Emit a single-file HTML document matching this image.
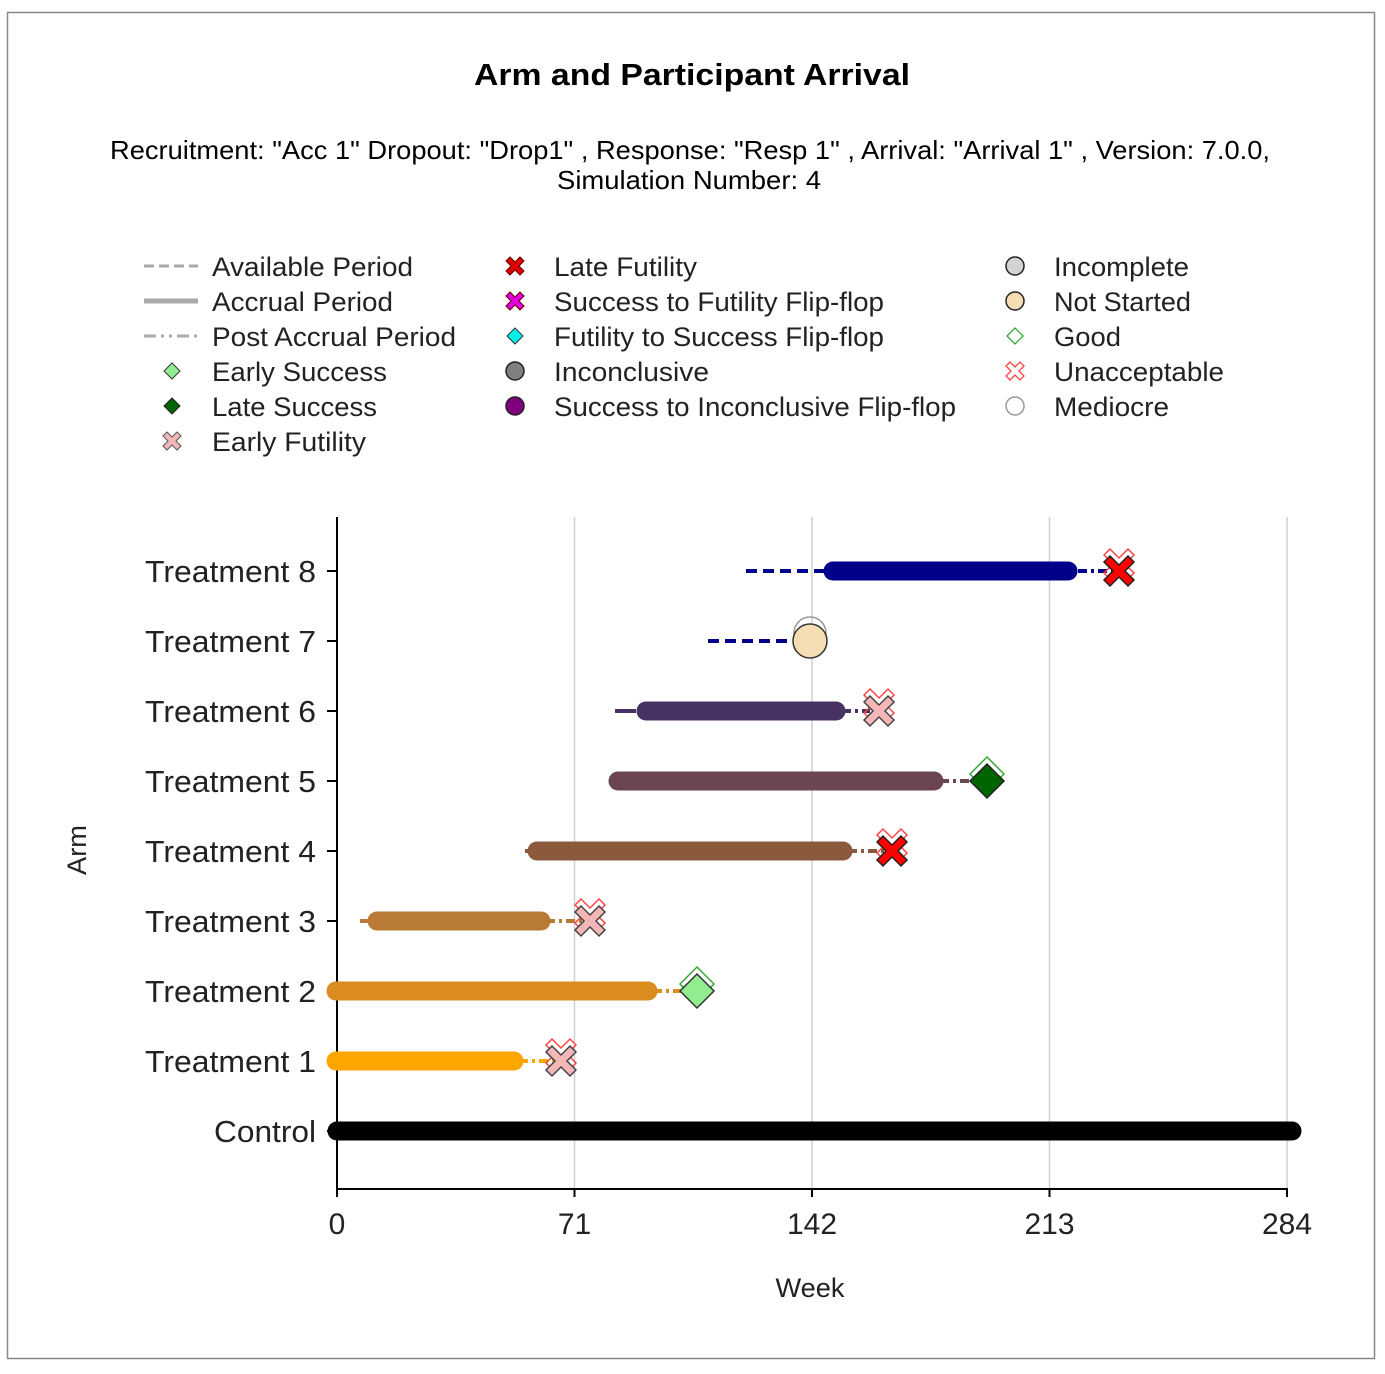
<!DOCTYPE html>
<html><head><meta charset="utf-8"><style>
body{margin:0;background:#fff;}
svg{display:block;font-family:"Liberation Sans",sans-serif;}
</style></head><body>
<svg width="1385" height="1374" viewBox="0 0 1385 1374" xmlns="http://www.w3.org/2000/svg">
<defs>
<path id="xs" d="M-9,-5 L-5,-9 L0,-4 L5,-9 L9,-5 L4,0 L9,5 L5,9 L0,4 L-5,9 L-9,5 L-4,0 Z"/>
<path id="xb" d="M-15,-9 L-9,-15 L0,-6 L9,-15 L15,-9 L6,0 L15,9 L9,15 L0,6 L-9,15 L-15,9 L-6,0 Z"/>
<path id="dm" d="M0,-17 L17,0 L0,17 L-17,0 Z"/>
<path id="dms" d="M0,-8 L8,0 L0,8 L-8,0 Z"/>
</defs>
<rect x="7.5" y="12.5" width="1367" height="1346" fill="#fff" stroke="#888" stroke-width="1.5"/>
<text x="692" y="85" text-anchor="middle" font-size="31" font-weight="bold" textLength="436" lengthAdjust="spacingAndGlyphs">Arm and Participant Arrival</text>
<text x="690" y="159" text-anchor="middle" font-size="26" textLength="1160" lengthAdjust="spacingAndGlyphs">Recruitment: "Acc 1" Dropout: "Drop1" , Response: "Resp 1" , Arrival: "Arrival 1" , Version: 7.0.0,</text>
<text x="689" y="189" text-anchor="middle" font-size="26" textLength="264" lengthAdjust="spacingAndGlyphs">Simulation Number: 4</text>

<g font-size="27" fill="#222">
<line x1="144" y1="266" x2="198" y2="266" stroke="#aaa" stroke-width="3" stroke-dasharray="10,5"/>
<text x="212" y="276" textLength="201" lengthAdjust="spacingAndGlyphs">Available Period</text>
<line x1="144" y1="301" x2="198" y2="301" stroke="#aaa" stroke-width="5"/>
<text x="212" y="311" textLength="181" lengthAdjust="spacingAndGlyphs">Accrual Period</text>
<line x1="144" y1="336" x2="198" y2="336" stroke="#aaa" stroke-width="3" stroke-dasharray="12,5,3,5,3,5"/>
<text x="212" y="346" textLength="244" lengthAdjust="spacingAndGlyphs">Post Accrual Period</text>
<use href="#dms" x="172" y="371" fill="#90EE90" stroke="#333"/>
<text x="212" y="381" textLength="175" lengthAdjust="spacingAndGlyphs">Early Success</text>
<use href="#dms" x="172" y="406" fill="#006400" stroke="#222"/>
<text x="212" y="416" textLength="165" lengthAdjust="spacingAndGlyphs">Late Success</text>
<use href="#xs" x="172" y="441" fill="#f4b6b6" stroke="#555"/>
<text x="212" y="451" textLength="154" lengthAdjust="spacingAndGlyphs">Early Futility</text>

<use href="#xs" x="515" y="266" fill="#d00" stroke="#600"/>
<text x="554" y="276" textLength="143" lengthAdjust="spacingAndGlyphs">Late Futility</text>
<use href="#xs" x="515" y="301" fill="#e000e0" stroke="#600"/>
<text x="554" y="311" textLength="330" lengthAdjust="spacingAndGlyphs">Success to Futility Flip-flop</text>
<use href="#dms" x="515" y="336" fill="#00eeee" stroke="#333"/>
<text x="554" y="346" textLength="330" lengthAdjust="spacingAndGlyphs">Futility to Success Flip-flop</text>
<circle cx="515" cy="371" r="9" fill="#808080" stroke="#222" stroke-width="1.5"/>
<text x="554" y="381" textLength="155" lengthAdjust="spacingAndGlyphs">Inconclusive</text>
<circle cx="515" cy="406" r="9" fill="#800080" stroke="#222" stroke-width="1.5"/>
<text x="554" y="416" textLength="402" lengthAdjust="spacingAndGlyphs">Success to Inconclusive Flip-flop</text>

<circle cx="1015" cy="266" r="9" fill="#d3d3d3" stroke="#222" stroke-width="1.5"/>
<text x="1054" y="276" textLength="135" lengthAdjust="spacingAndGlyphs">Incomplete</text>
<circle cx="1015" cy="301" r="9" fill="#f5deb3" stroke="#222" stroke-width="1.5"/>
<text x="1054" y="311" textLength="137" lengthAdjust="spacingAndGlyphs">Not Started</text>
<use href="#dms" x="1015" y="336" fill="none" stroke="#3a3" stroke-width="1.3"/>
<text x="1054" y="346" textLength="67" lengthAdjust="spacingAndGlyphs">Good</text>
<use href="#xs" x="1015" y="371" fill="none" stroke="#f44" stroke-width="1.3"/>
<text x="1054" y="381" textLength="170" lengthAdjust="spacingAndGlyphs">Unacceptable</text>
<circle cx="1015" cy="406" r="9" fill="none" stroke="#999" stroke-width="1.5"/>
<text x="1054" y="416" textLength="115" lengthAdjust="spacingAndGlyphs">Mediocre</text>
</g>

<g stroke="#d0d0d0" stroke-width="1.5">
<line x1="574.5" y1="517" x2="574.5" y2="1189"/>
<line x1="812" y1="517" x2="812" y2="1189"/>
<line x1="1049.5" y1="517" x2="1049.5" y2="1189"/>
<line x1="1287" y1="517" x2="1287" y2="1189"/>
</g>
<g stroke="#000" stroke-width="2">
<line x1="337" y1="517" x2="337" y2="1189"/>
<line x1="336" y1="1189" x2="1288" y2="1189"/>
<line x1="337" y1="1189" x2="337" y2="1197"/>
<line x1="574.5" y1="1189" x2="574.5" y2="1197"/>
<line x1="812" y1="1189" x2="812" y2="1197"/>
<line x1="1049.5" y1="1189" x2="1049.5" y2="1197"/>
<line x1="1287" y1="1189" x2="1287" y2="1197"/>
</g>
<g stroke="#000" stroke-width="2">
<line x1="327" y1="571" x2="337" y2="571"/><line x1="327" y1="641" x2="337" y2="641"/>
<line x1="327" y1="711" x2="337" y2="711"/><line x1="327" y1="781" x2="337" y2="781"/>
<line x1="327" y1="851" x2="337" y2="851"/><line x1="327" y1="921" x2="337" y2="921"/>
<line x1="327" y1="991" x2="337" y2="991"/><line x1="327" y1="1061" x2="337" y2="1061"/>
<line x1="327" y1="1131" x2="337" y2="1131"/>
</g>
<g font-size="31" text-anchor="end" fill="#222">
<text x="316" y="582" textLength="171" lengthAdjust="spacingAndGlyphs">Treatment 8</text>
<text x="316" y="652" textLength="171" lengthAdjust="spacingAndGlyphs">Treatment 7</text>
<text x="316" y="722" textLength="171" lengthAdjust="spacingAndGlyphs">Treatment 6</text>
<text x="316" y="792" textLength="171" lengthAdjust="spacingAndGlyphs">Treatment 5</text>
<text x="316" y="862" textLength="171" lengthAdjust="spacingAndGlyphs">Treatment 4</text>
<text x="316" y="932" textLength="171" lengthAdjust="spacingAndGlyphs">Treatment 3</text>
<text x="316" y="1002" textLength="171" lengthAdjust="spacingAndGlyphs">Treatment 2</text>
<text x="316" y="1072" textLength="171" lengthAdjust="spacingAndGlyphs">Treatment 1</text>
<text x="316" y="1142" textLength="102" lengthAdjust="spacingAndGlyphs">Control</text>
</g>
<g font-size="30" text-anchor="middle" fill="#222">
<text x="337" y="1234">0</text><text x="574.5" y="1234">71</text><text x="812" y="1234">142</text>
<text x="1049.5" y="1234">213</text><text x="1287" y="1234">284</text>
</g>
<text x="810" y="1297" text-anchor="middle" font-size="27" fill="#222" textLength="69" lengthAdjust="spacingAndGlyphs">Week</text>
<text transform="translate(86,850) rotate(-90)" text-anchor="middle" font-size="27" fill="#222" textLength="50" lengthAdjust="spacingAndGlyphs">Arm</text>

<g stroke-linecap="round">
<line x1="746" y1="571" x2="825" y2="571" stroke="#00008B" stroke-width="4" stroke-dasharray="11,6" stroke-linecap="butt"/>
<line x1="833" y1="571" x2="1068" y2="571" stroke="#00008B" stroke-width="19"/>
<line x1="1078" y1="571" x2="1112" y2="571" stroke="#00008B" stroke-width="4" stroke-dasharray="9,4,3,4" stroke-linecap="butt"/>
<line x1="708" y1="641" x2="792" y2="641" stroke="#00008B" stroke-width="4" stroke-dasharray="11,6" stroke-linecap="butt"/>
<line x1="615" y1="711" x2="636" y2="711" stroke="#483264" stroke-width="4" stroke-linecap="butt"/>
<line x1="646" y1="711" x2="836" y2="711" stroke="#483264" stroke-width="19"/>
<line x1="842" y1="711" x2="870" y2="711" stroke="#483264" stroke-width="4" stroke-dasharray="9,4,3,4" stroke-linecap="butt"/>
<line x1="618" y1="781" x2="934" y2="781" stroke="#6B4550" stroke-width="19"/>
<line x1="940" y1="781" x2="980" y2="781" stroke="#6B4550" stroke-width="4" stroke-dasharray="9,4,3,4" stroke-linecap="butt"/>
<line x1="525" y1="851" x2="532" y2="851" stroke="#8B5A3C" stroke-width="4" stroke-linecap="butt"/>
<line x1="537" y1="851" x2="843" y2="851" stroke="#8B5A3C" stroke-width="19"/>
<line x1="848" y1="851" x2="885" y2="851" stroke="#8B5A3C" stroke-width="4" stroke-dasharray="9,4,3,4" stroke-linecap="butt"/>
<line x1="360" y1="921" x2="370" y2="921" stroke="#B87A35" stroke-width="4" stroke-linecap="butt"/>
<line x1="377" y1="921" x2="541" y2="921" stroke="#B87A35" stroke-width="19"/>
<line x1="546" y1="921" x2="583" y2="921" stroke="#B87A35" stroke-width="4" stroke-dasharray="9,4,3,4" stroke-linecap="butt"/>
<line x1="336" y1="991" x2="648" y2="991" stroke="#DA8C1E" stroke-width="19"/>
<line x1="653" y1="991" x2="690" y2="991" stroke="#DA8C1E" stroke-width="4" stroke-dasharray="9,4,3,4" stroke-linecap="butt"/>
<line x1="336" y1="1061" x2="514" y2="1061" stroke="#FFA500" stroke-width="19"/>
<line x1="519" y1="1061" x2="554" y2="1061" stroke="#FFA500" stroke-width="4" stroke-dasharray="9,4,3,4" stroke-linecap="butt"/>
<line x1="337" y1="1131" x2="1292" y2="1131" stroke="#000" stroke-width="19"/>
</g>

<use href="#xb" x="1119" y="564" fill="none" stroke="#f44" stroke-width="1.5"/>
<use href="#xb" x="1119" y="571" fill="#f00" stroke="#222" stroke-width="1.5"/>
<circle cx="810" cy="633" r="16" fill="none" stroke="#999" stroke-width="1.5"/>
<circle cx="810" cy="641" r="17" fill="#f5deb3" stroke="#333" stroke-width="1.5"/>
<use href="#xb" x="879" y="704" fill="none" stroke="#f44" stroke-width="1.5"/>
<use href="#xb" x="879" y="711" fill="#f4b6b6" stroke="#444" stroke-width="1.5"/>
<use href="#dm" x="987" y="774" fill="none" stroke="#3a3" stroke-width="1.5"/>
<use href="#dm" x="987" y="781" fill="#006400" stroke="#222" stroke-width="1.5"/>
<use href="#xb" x="892" y="844" fill="none" stroke="#f44" stroke-width="1.5"/>
<use href="#xb" x="892" y="851" fill="#f00" stroke="#222" stroke-width="1.5"/>
<use href="#xb" x="590" y="914" fill="none" stroke="#f44" stroke-width="1.5"/>
<use href="#xb" x="590" y="921" fill="#f4b6b6" stroke="#444" stroke-width="1.5"/>
<use href="#dm" x="697" y="984" fill="none" stroke="#3a3" stroke-width="1.5"/>
<use href="#dm" x="697" y="991" fill="#90EE90" stroke="#333" stroke-width="1.5"/>
<use href="#xb" x="561" y="1054" fill="none" stroke="#f44" stroke-width="1.5"/>
<use href="#xb" x="561" y="1061" fill="#f4b6b6" stroke="#444" stroke-width="1.5"/>
</svg>
</body></html>
